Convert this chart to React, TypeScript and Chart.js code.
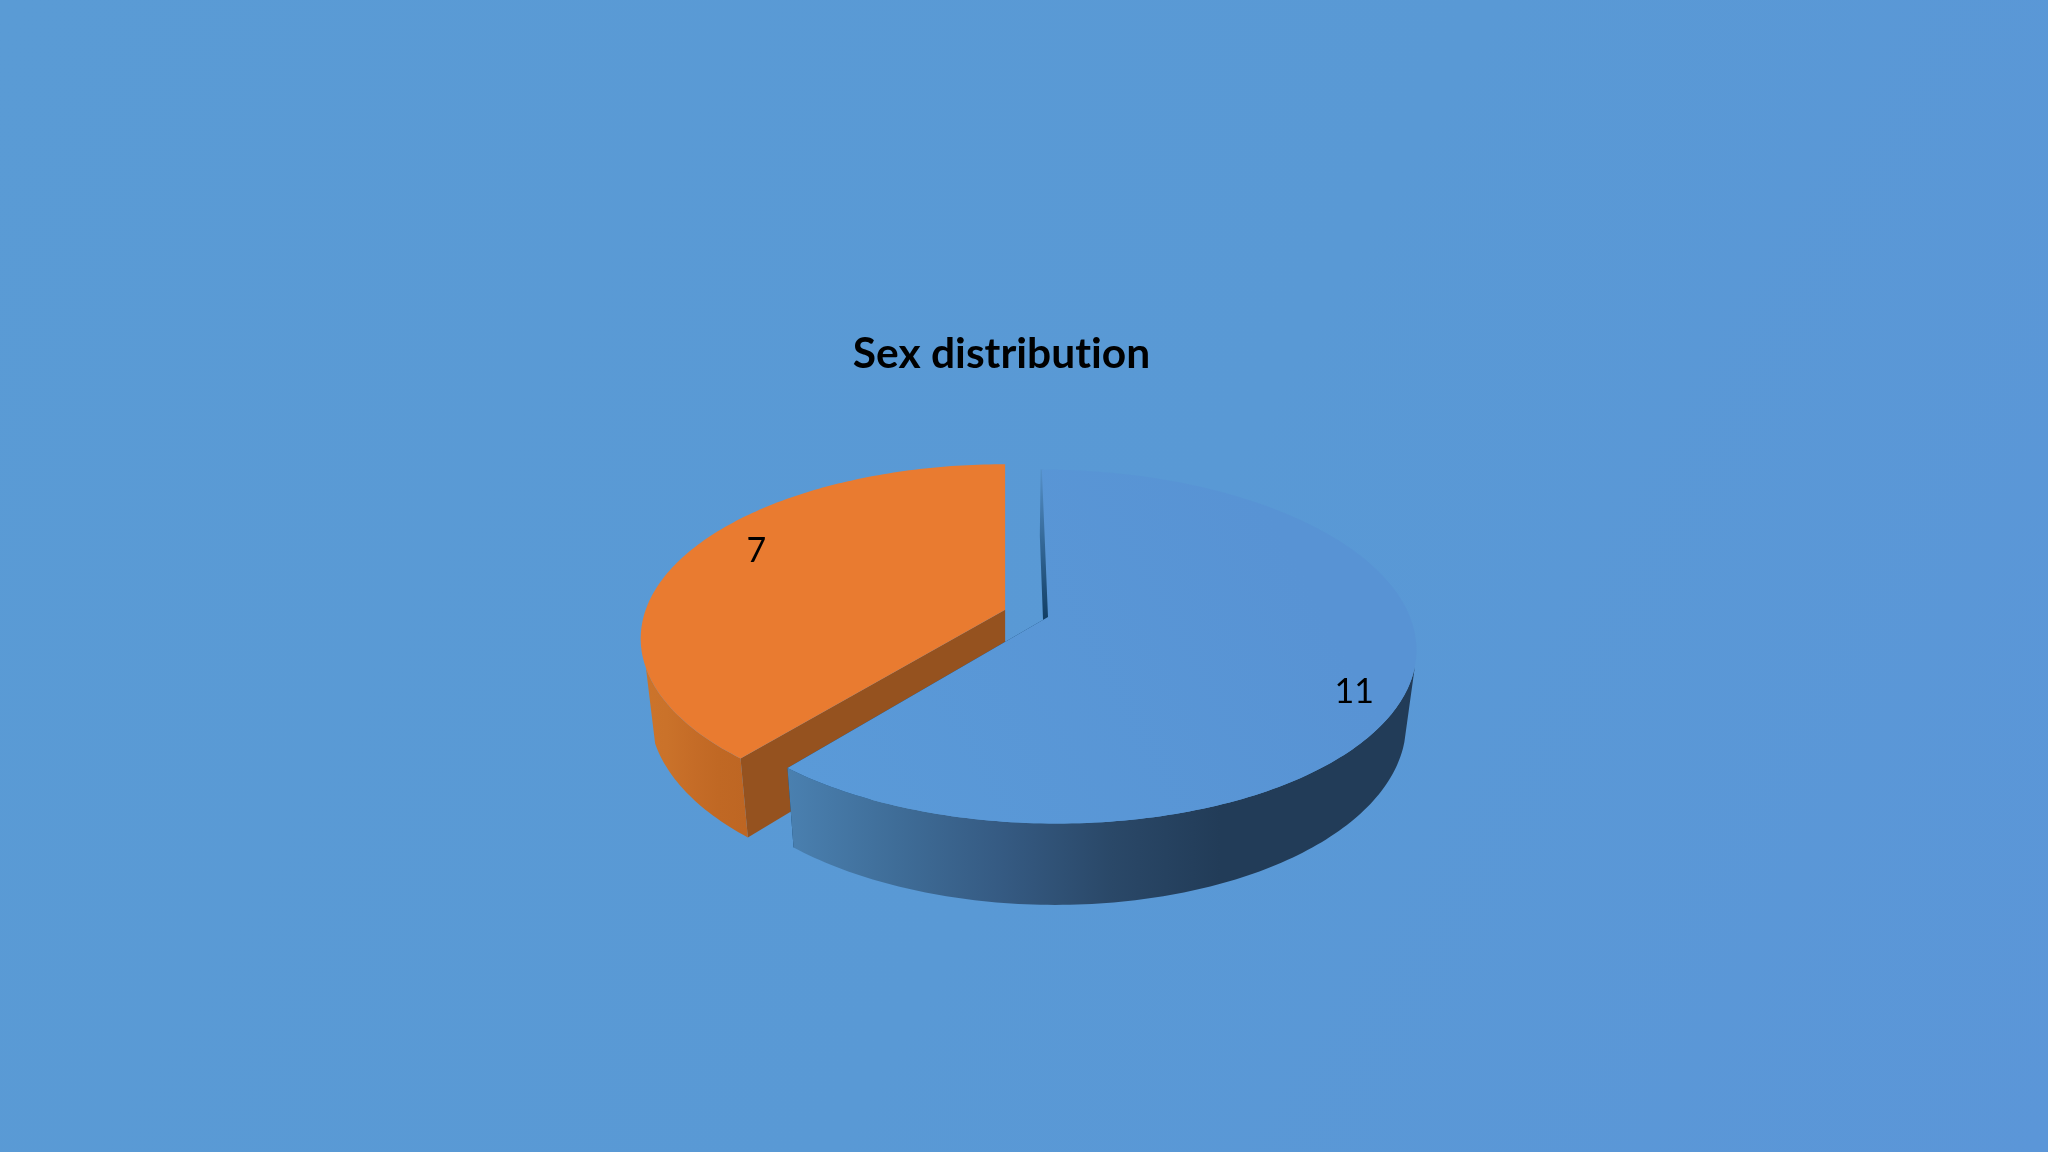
import React, { useEffect, useRef } from "react";
import Chart from "chart.js/auto";

const categories = ["Male", "Female"];
const counts = [11, 7];
const chartTitle = "Sex distribution";

const topColors = ["#5995D5", "#E97B30"];
const topShades = [
  ["#5A9AD8", "#5893D4"],
  ["#E97B30", "#E97B30"],
];
const faceTopColors = ["#5590C8", "#95521F"];
const faceColors = ["#123F66", "#95521F"];
const sideColors = [
  ["#4A80B0", "#3F6D98", "#355A82", "#2A4868", "#223C58"],
  ["#CC742B", "#CA722A", "#C56C27", "#C06824", "#BE6623"],
];
// x range of the side shading
const sideRanges = [
  [787, 1220],
  [640, 745],
];

// camera used to lay the flat pie down: vanishing column, pie centre, squash
const view = { vanishX: 1005, cx: 1048, cy: 617, rx: 362, ry: 172, tilt: 0.167, depth: 75, depthTilt: 0.025 };
// the wall only shows in front of this line
const wallFrom = 0.27;
const labelRadii = [0.88, 0.82];
const labelTurns = [(7.5 * Math.PI) / 180, (6.5 * Math.PI) / 180];

const project = (u: number, v: number, low: boolean) => {
  const w = 1 - view.tilt * v + (low ? view.depthTilt : 0);
  return {
    x: view.vanishX + (view.cx - view.vanishX + view.rx * u) / w,
    y: view.cy + (view.ry * v + (low ? view.depth : 0)) / w,
  };
};

const pie3d = {
  id: "pie3d",
  beforeDraw(chart: any) {
    // stops the "ti" ligature in the title
    chart.ctx.letterSpacing = "0.01px";
  },
  beforeDatasetsDraw(chart: any) {
    const { ctx } = chart;
    const arcs = chart.getDatasetMeta(0).data;
    for (let i = arcs.length - 1; i >= 0; i--) {
      const arc = arcs[i];
      const { startAngle, endAngle, outerRadius } = arc;
      const mid = (startAngle + endAngle) / 2;
      const shift = (arc.options.offset || 0) / outerRadius;
      const u0 = Math.cos(mid) * shift;
      const v0 = Math.sin(mid) * shift;
      const steps = Math.ceil(((endAngle - startAngle) * 180) / Math.PI);
      const angleAt = (s: number) => startAngle + ((endAngle - startAngle) * s) / steps;
      const rim = (low: boolean) => {
        const pts = [];
        for (let s = 0; s <= steps; s++) {
          const a = angleAt(s);
          pts.push(project(u0 + Math.cos(a), v0 + Math.sin(a), low));
        }
        return pts;
      };
      const trace = (pts: { x: number; y: number }[]) => {
        ctx.beginPath();
        pts.forEach((p, k) => (k ? ctx.lineTo(p.x, p.y) : ctx.moveTo(p.x, p.y)));
        ctx.closePath();
      };
      const upper = rim(false);
      const lower = rim(true);
      const hubUp = project(u0, v0, false);
      const hubLow = project(u0, v0, true);

      ctx.save();
      // cut faces, only the start one is thick enough to need a stroke
      const face = ctx.createLinearGradient(0, upper[0].y, 0, hubUp.y);
      face.addColorStop(0, faceTopColors[i]);
      face.addColorStop(1, faceColors[i]);
      ctx.fillStyle = face;
      ctx.strokeStyle = face;
      ctx.lineWidth = 2.5;
      trace([hubUp, upper[0], lower[0], hubLow]);
      ctx.fill();
      if (i === 0) ctx.stroke();
      ctx.fillStyle = faceColors[i];
      trace([hubUp, upper[steps], lower[steps], hubLow]);
      ctx.fill();
      // outer wall, front part only
      const grad = ctx.createLinearGradient(sideRanges[i][0], 0, sideRanges[i][1], 0);
      sideColors[i].forEach((c, k) => grad.addColorStop(k / (sideColors[i].length - 1), c));
      ctx.fillStyle = grad;
      const front = upper.map((_, s) => s).filter((s) => v0 + Math.sin(angleAt(s)) >= wallFrom);
      trace([...front.map((s) => upper[s]), ...front.slice().reverse().map((s) => lower[s])]);
      ctx.fill();
      // top
      const top = ctx.createLinearGradient(upper[steps].x, upper[steps].y, upper[Math.floor(steps * 0.2)].x, upper[Math.floor(steps * 0.2)].y);
      top.addColorStop(0, topShades[i][0]);
      top.addColorStop(1, topShades[i][1]);
      ctx.fillStyle = top;
      trace([hubUp, ...upper]);
      ctx.fill();
      ctx.restore();
    }
    // value labels
    ctx.save();
    ctx.fillStyle = "#000";
    ctx.font = "34px Lato";
    ctx.textAlign = "center";
    ctx.textBaseline = "middle";
    arcs.forEach((arc: any, i: number) => {
      const mid = (arc.startAngle + arc.endAngle) / 2;
      const shift = (arc.options.offset || 0) / arc.outerRadius;
      const p = project(
        Math.cos(mid) * shift + Math.cos(mid + labelTurns[i]) * labelRadii[i],
        Math.sin(mid) * shift + Math.sin(mid + labelTurns[i]) * labelRadii[i],
        false
      );
      ctx.fillText(String(counts[i]), p.x, p.y);
    });
    ctx.restore();
    return false;
  },
};

const App = () => {
  const ref = useRef<HTMLCanvasElement>(null!);
  useEffect(() => {
    const chart = new Chart(ref.current, {
      type: "pie",
      data: {
        labels: categories,
        datasets: [{ data: counts, backgroundColor: topColors, borderWidth: 0, offset: [0, 50] }],
      },
      options: {
        responsive: false,
        animation: false,
        radius: 397,
        plugins: {
          legend: { display: false },
          tooltip: { enabled: false },
          title: {
            display: true,
            text: chartTitle,
            color: "#000",
            font: { family: "Lato", size: 42.5, weight: "bold" },
            padding: { top: 329, bottom: 10 },
          },
        },
      } as any,
      plugins: [pie3d],
    });
    return () => {
      chart.destroy();
    };
  }, []);
  return (
    <div
      style={{
        position: "fixed",
        left: 0,
        top: 0,
        width: 2048,
        height: 1152,
        background: "linear-gradient(120deg, #5A9BD5 0%, #5999D5 55%, #5B96D8 100%)",
      }}
    >
      <canvas ref={ref} width={2003} height={1152} style={{ display: "block" }} />
    </div>
  );
};
export default App;
